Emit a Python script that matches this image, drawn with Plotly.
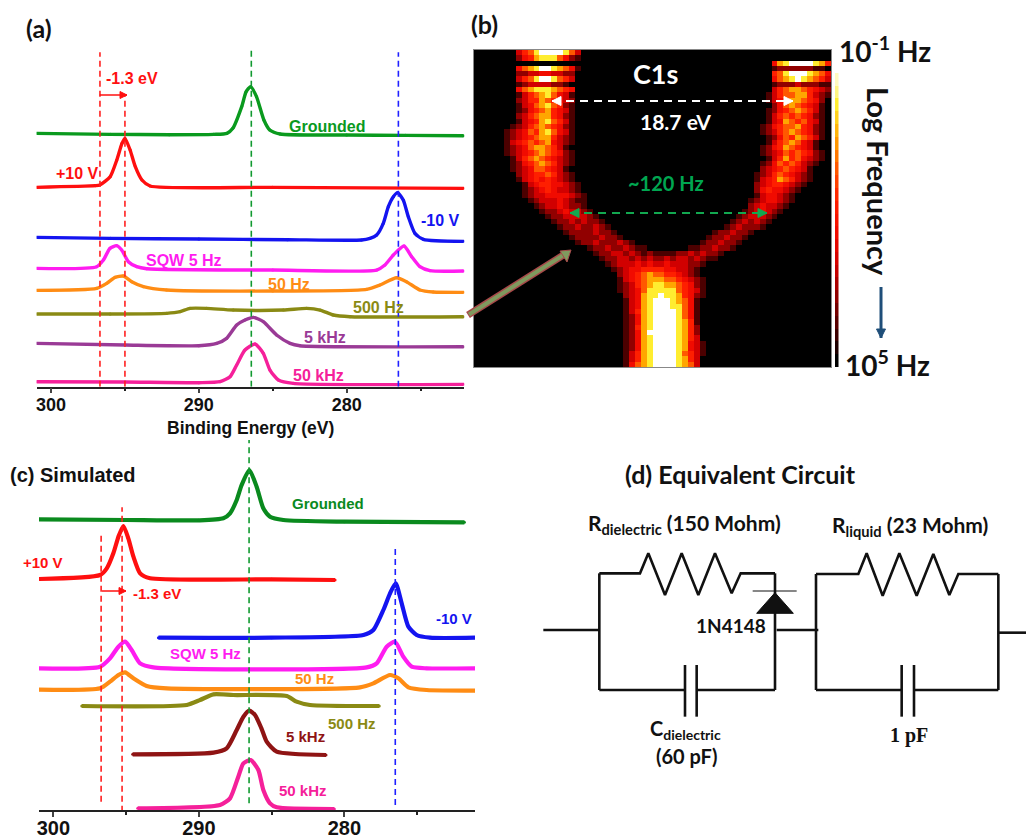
import math
import plotly.graph_objects as go

W, H = 1026, 838
SANS = "Liberation Sans"
CAL = "Lato"

# ---------- panel (a): binding energy (eV) and stacked intensity (a.u.)
a_series = {
    "Grounded": ([301,296,292,289,288.1,287.7,287.1,286.8,286.5,286.1,285.6,285.2,284.5,280,276,272.1],
                 [760,757,756,757,760,775,840,885,900,870,800,770,758,755,754,753], "#0a9a1e"),
    "+10 V": ([301,297,296.7,296,295.55,295.2,295,294.65,294.3,293.85,293.3,285,272.1],
              [598,603,605,630,680,730,745,710,660,620,602,598,595], "#ff0f0f"),
    "-10 V": ([301,296,290,284,279,278.42,277.97,277.52,277.18,276.84,276.55,276.17,275.83,275.38,274.81,272.1],
              [448,445,443,441,440,445,455,490,540,570,582,560,510,460,442,436], "#1414f0"),
    "SQW 5 Hz": ([301,296.91,296.46,296.01,295.56,295.22,294.77,294.2,293.53,285,277.97,277.41,276.84,276.12,275.6,275.04,274.36,272.1],
                 [355,360,380,415,423,410,375,360,354,350,350,365,395,422,390,360,348,347], "#ff1cf0"),
    "50 Hz": ([301,296.91,296.23,295.67,295.11,294.54,293.75,292.18,285,278.65,277.75,276.62,275.95,275.04,274.14,272.1],
              [289,295,310,328,332,315,300,290,287,292,305,327,315,290,284,283], "#ff8c14"),
    "500 Hz": ([301,296,292.18,291.27,290.6,289.47,287.67,284.28,282.7,281.8,280.9,279.77,272.1],
               [218,218,220,225,235,235,230,230,235,230,215,210,210], "#8a8a14"),
    "5 kHz": ([301,295,290,288.79,288.12,287.44,286.88,286.31,285.64,284.74,283.83,283.16,272.1],
              [130,125,123,130,145,185,200,208,195,155,130,123,120], "#9a3a96"),
    "50 kHz": ([301,295,290,288.57,287.89,287.44,286.88,286.2,285.64,285.19,284.62,283.61,272.1],
               [15,14,12,15,30,65,110,128,100,50,20,10,7], "#f5209a"),
}

# ---------- panel (c): simulated spectra
c_series = {
    "Grounded": ([300.99,295,290,288.32,287.86,287.4,287.06,286.53,286.03,285.57,285.11,284.19,280,271.75],
                 [872,870,869,875,890,930,975,1020,970,905,880,870,865,863], "#0a8a1e"),
    "+10 V": ([300.99,296.79,296.33,295.88,295.53,295.19,294.85,294.5,294.04,293.36,285,280.64],
              [693,705,725,770,820,852,815,760,710,695,692,690], "#ff0f0f"),
    "-10 V": ([292.78,285,278.69,278.01,277.32,276.86,276.47,276.06,275.6,275.03,274.11,271.02],
              [517,517,525,540,600,650,680,620,550,525,517,517], "#1414f0"),
    "SQW 5 Hz": ([300.99,296.79,296.11,295.53,295.07,294.62,294.04,293.13,278.46,277.78,277.09,276.52,275.95,275.37,274.34,271.02],
                 [425,430,455,490,505,480,440,428,428,440,490,505,460,430,425,425], "#ff1cf0"),
    "50 Hz": ([300.99,296.79,296.11,295.53,295.07,294.5,293.59,292.21,278.92,278.01,276.86,276.29,275.6,274.34,271.02],
              [361,365,385,405,413,395,372,365,368,380,405,395,368,360,358], "#ff8c14"),
    "500 Hz": ([298.05,290.84,289.92,289.0,287.63,283.96,283.28,282.36,277.6],
               [312,315,330,347,345,342,325,315,312], "#8a8a14"),
    "5 kHz": ([294.55,289.0,288.09,287.4,286.94,286.53,286.14,285.7,285.34,284.65,281.26],
              [167,172,185,240,280,298,285,245,205,175,165], "#8f1414"),
    "50 kHz": ([294.2,288.55,287.86,287.29,286.94,286.44,285.91,285.57,285.11,284.65,280.69],
               [5,15,35,100,140,150,120,60,20,8,3], "#f5209a"),
}

# ---------- panel (b): intensity map, 60 x 60, read by eye (0 = black ... 9 = white)
b_rows = """
0000000356 8999986300 0000000000 0000000000 0000000000 0000000000
0000000245 7888642100 0000000000 0000000000 0000000000 0000000000
0000000000 0000000000 0000000000 0000000000 0000000000 4789999875
0000000467 8998764100 0000000000 0000000000 0000000000 1222222110
0000000223 3443322000 0000000000 0000000000 0000000000 5689998764
0000000356 8998653000 0000000000 0000000000 0000000000 4678987653
0000000123 3332210000 0000000000 0000000000 0000000000 1222322211
0000000467 8887654000 0000000000 0000000000 0000000000 3567765432
0000000135 6786431000 0000000000 0000000000 0000000001 3566775321
0000000235 5765432000 0000000000 0000000000 0000000001 3457765420
0000000134 6786521000 0000000000 0000000000 0000000000 2467654310
0000000124 5675431000 0000000000 0000000000 0000000001 2456765310
0000000235 6775421000 0000000000 0000000000 0000000001 3565654210
0000000134 5786531000 0000000000 0000000000 0000000001 3476564310
0000001235 6765421000 0000000000 0000000000 0000000012 4566754210
0000012346 5786431000 0000000000 0000000000 0000000012 3567654210
0000012345 6775321000 0000000000 0000000000 0000000001 2465765310
0000013456 5674321000 0000000000 0000000000 0000000001 3567643100
0000012346 7765310000 0000000000 0000000000 0000000012 4576543100
0000012345 6765421000 0000000000 0000000000 0000000012 3465654210
0000001356 7654321000 0000000000 0000000000 0000000001 3575643210
0000001245 6765321000 0000000000 0000000000 0000000012 4656532100
0000001234 6654310000 0000000000 0000000000 0000000023 4565431000
0000000234 5565321000 0000000000 0000000000 0000000123 5654321000
0000000134 5454321000 0000000000 0000000000 0000000134 5765321000
0000000013 4554432100 0000000000 0000000000 0000000234 5543210000
0000000012 3454332100 0000000000 0000000000 0000000245 4432100000
0000000012 3344443210 0000000000 0000000000 0000000134 4321000000
0000000001 2333432110 0000000000 0000000000 0000001234 4321000000
0000000000 1233432210 0000000000 0000000000 0000002343 3210000000
0000000000 0122343321 0000000000 0000000000 0000012343 2100000000
0000000000 0012233332 1000000000 0000000000 0000123332 1000000000
0000000000 0001223232 2100000000 0000000000 0001232321 0000000000
0000000000 0000122322 3210000000 0000000000 0012322210 0000000000
0000000000 0000012222 3221000000 0000000000 1223221000 0000000000
0000000000 0000001222 2322100000 0000000001 2232210000 0000000000
0000000000 0000000122 3222321000 0000000012 2322100000 0000000000
0000000000 0000000001 2232232110 0000001122 3221000000 0000000000
0000000000 0000000000 1223323212 1111223232 2100000000 0000000000
0000000000 0000000000 0122332323 2232332321 1000000000 0000000000
0000000000 0000000000 0012333434 3343332210 0000000000 0000000000
0000000000 0000000000 0001234455 5544332100 0000000000 0000000000
0000000000 0000000000 0000234567 6655432100 0000000000 0000000000
0000000000 0000000000 0000134567 7766543210 0000000000 0000000000
0000000000 0000000000 0000123567 8877654210 0000000000 0000000000
0000000000 0000000000 0000123468 8888654310 0000000000 0000000000
0000000000 0000000000 0000023478 8988754210 0000000000 0000000000
0000000000 0000000000 0000013478 9998764100 0000000000 0000000000
0000000000 0000000000 0000013478 9998864100 0000000000 0000000000
0000000000 0000000000 0000013578 9999864100 0000000000 0000000000
0000000000 0000000000 0000012478 9999864100 0000000000 0000000000
0000000000 0000000000 0000012478 9999875100 0000000000 0000000000
0000000000 0000000000 0000012578 9999875200 0000000000 0000000000
0000000000 0000000000 0000012479 9999875200 0000000000 0000000000
0000000000 0000000000 0000012478 9999875300 0000000000 0000000000
0000000000 0000000000 0000012478 9999874310 0000000000 0000000000
0000000000 0000000000 0000012478 9999874310 0000000000 0000000000
0000000000 0000000000 0000013578 9999865310 0000000000 0000000000
0000000000 0000000000 0000013578 9999875300 0000000000 0000000000
0000000000 0000000000 0000014678 9999876300 0000000000 0000000000
""".strip().splitlines()
b_z = [[int(ch) for ch in row.replace(" ", "").ljust(60, "0")[:60]] for row in b_rows]
b_scale = [[0, "#000000"], [0.11, "#4a0000"], [0.22, "#900000"], [0.33, "#d00000"], [0.44, "#f00a00"],
           [0.56, "#ff2000"], [0.67, "#ff5a00"], [0.78, "#ffa800"], [0.89, "#ffee30"], [1, "#ffffff"]]
strip_levels = [[9], [8.7], [8.4], [8], [7.6], [7.2], [6.8], [6.4], [6], [5.6], [5.2], [4.8], [4.4], [4], [3.6], [3.2], [2.8], [2.4], [2], [1.6], [1.2], [0.8], [0.4], [0]]

# ---------- panel (d): circuit schematic, in schematic units
res1_x = [208,325,330,355,405,455,505,555,605,632,735]
res1_y = [370,370,370,310,435,310,435,310,430,370,370]
res2_x = [858,978,985,1010,1058,1108,1160,1210,1258,1285,1405]
res2_y = [372,372,372,310,437,310,437,312,435,372,372]
wires = [
    ([40,208],[540,540]), ([208,208],[370,720]), ([208,465],[720,720]), ([500,735],[720,720]),
    ([735,735],[370,720]), ([740,865],[540,540]), ([858,858],[372,720]), ([858,1115],[720,720]),
    ([1152,1405],[720,720]), ([1405,1405],[372,720]), ([1405,1488],[548,548]),
    ([465,465],[645,800]), ([500,500],[645,800]), ([1115,1115],[645,800]), ([1152,1152],[645,800]),
]
diode_x = [735,680,790,735]
diode_y = [428,490,490,428]
diode_bar_x = [668,800]
diode_bar_y = [423,423]

fig = go.Figure()

def dom_x(a, b): return [a / W, b / W]
def dom_y(top, bot): return [1 - bot / H, 1 - top / H]

hidden = dict(visible=False, showgrid=False, zeroline=False, automargin=False)
fig.update_layout(
    width=W, height=H, autosize=False, margin=dict(l=0, r=0, t=0, b=0),
    paper_bgcolor="white", plot_bgcolor="rgba(0,0,0,0)", showlegend=False,
    xaxis=dict(domain=dom_x(36.7, 464.3), range=[300.97, 272.04], tickvals=[300, 290, 280], automargin=False,
               ticks="outside", ticklen=5, tickwidth=1.5, linecolor="#222", linewidth=1.5, showline=True, ticklabelstandoff=-4,
               showgrid=False, zeroline=False, tickfont=dict(family=SANS, size=18, color="#111", weight="bold"),
               minor=dict(tickvals=[295, 285, 275], ticks="outside", ticklen=3, tickcolor="#222"),
               anchor="y"),
    yaxis=dict(domain=dom_y(50, 386.7), range=[0, 1010], **hidden, anchor="x"),
    xaxis2=dict(domain=dom_x(39, 475), range=[300.99, 271.02], tickvals=[300, 290, 280], automargin=False,
                ticks="outside", ticklen=5, tickwidth=1.5, linecolor="#222", linewidth=1.5, showline=True, ticklabelstandoff=-6,
                showgrid=False, zeroline=False, tickfont=dict(family=SANS, size=20, color="#111", weight="bold"),
                minor=dict(tickvals=[295, 285, 275], ticks="outside", ticklen=3, tickcolor="#222"),
                anchor="y2"),
    yaxis2=dict(domain=dom_y(440, 810), range=[0, 1110], **hidden, anchor="x2"),
    xaxis3=dict(domain=dom_x(474, 831), range=[-0.5, 59.5], showticklabels=False, ticks="", showgrid=False, automargin=False,
                zeroline=False, showline=True, linecolor="#888", mirror=True, anchor="y3"),
    yaxis3=dict(domain=dom_y(50, 367), range=[59.5, -0.5], showticklabels=False, ticks="", showgrid=False, automargin=False,
                zeroline=False, showline=True, linecolor="#888", mirror=True, anchor="x3"),
    xaxis4=dict(domain=[0, 1], range=[0, W], **hidden, anchor="y4"),
    yaxis4=dict(domain=[0, 1], range=[H, 0], **hidden, anchor="x4"),
    xaxis5=dict(domain=dom_x(530, 1026), range=[0, 1488], **hidden, anchor="y5"),
    yaxis5=dict(domain=dom_y(450, 780), range=[990, 0], **hidden, anchor="x5"),
    xaxis6=dict(domain=dom_x(835, 838.5), range=[-0.5, 0.5], **hidden, anchor="y6"),
    yaxis6=dict(domain=dom_y(60, 367), range=[23.5, -0.5], **hidden, anchor="x6"),
)

# spectra
for name, (xs, ys, col) in a_series.items():
    fig.add_trace(go.Scatter(x=xs, y=ys, mode="lines+markers", line=dict(color=col, width=3.4, shape="spline", smoothing=0.6),
                             marker=dict(color=col, size=3), name=name, xaxis="x", yaxis="y"))
for name, (xs, ys, col) in c_series.items():
    fig.add_trace(go.Scatter(x=xs, y=ys, mode="lines+markers", line=dict(color=col, width=4.2, shape="spline", smoothing=0.6),
                             marker=dict(color=col, size=3), name=name, xaxis="x2", yaxis="y2"))

# dashed guides, in each panel's data coordinates
a_guides = [(296.69, 0, 1003, "#ff2020"), (295.0, 0, 875, "#ff2020"), (286.45, 0, 1010, "#119a30"), (276.5, 0, 1003, "#2020ff")]
c_guides = [(296.72, 25, 835, "#ff2020"), (295.28, -5, 908, "#ff2020"), (286.55, 20, 1110, "#119a30"), (276.5, 15, 790, "#2020ff")]
for axis_x, axis_y, guides in (("x", "y", a_guides), ("x2", "y2", c_guides)):
    for e, lo, hi, col in guides:
        fig.add_trace(go.Scatter(x=[e, e], y=[lo, hi], mode="lines", line=dict(color=col, width=1.6, dash="6px,4px"),
                                 xaxis=axis_x, yaxis=axis_y, hoverinfo="skip"))

# heat map and its colour strip
fig.add_trace(go.Heatmap(z=b_z, xaxis="x3", yaxis="y3", colorscale=b_scale, zmin=0, zmax=9, zsmooth=False, showscale=False))
fig.add_trace(go.Heatmap(z=strip_levels, xaxis="x6", yaxis="y6", colorscale=b_scale, zmin=0, zmax=9, zsmooth=False, showscale=False, hoverinfo="skip"))

# circuit
sc = dict(mode="lines", line=dict(color="#111", width=2.6), xaxis="x5", yaxis="y5", hoverinfo="skip")
fig.add_trace(go.Scatter(x=res1_x, y=res1_y, **sc))
fig.add_trace(go.Scatter(x=res2_x, y=res2_y, **sc))
for wx, wy in wires:
    fig.add_trace(go.Scatter(x=wx, y=wy, **sc))
fig.add_trace(go.Scatter(x=diode_x, y=diode_y, mode="lines", fill="toself", fillcolor="#111", line=dict(color="#111", width=1),
                         xaxis="x5", yaxis="y5", hoverinfo="skip"))
fig.add_trace(go.Scatter(x=diode_bar_x, y=diode_bar_y, mode="lines", line=dict(color="#111", width=1.2),
                         xaxis="x5", yaxis="y5", hoverinfo="skip"))
fig.add_trace(go.Scatter(x=[0, W], y=[0, H], mode="markers", marker=dict(opacity=0), xaxis="x4", yaxis="y4", hoverinfo="skip"))

ann = []
shapes = []
def label(x, y, text, size, color="#111", family=SANS, bold=True, ref=("x4", "y4"), angle=0, xanchor="center"):
    t = f"<b>{text}</b>" if bold else text
    ann.append(dict(x=x, y=y, xref=ref[0], yref=ref[1], text=t, showarrow=False, xanchor=xanchor, yanchor="middle",
                    textangle=angle, font=dict(family=family, size=size, color=color)))

def head(x0, y0, x1, y1, color, size=7):
    d = math.hypot(x1 - x0, y1 - y0)
    ux, uy = (x1 - x0) / d, (y1 - y0) / d
    bx, by = x1 - ux * size, y1 - uy * size
    px, py = -uy * size * 0.5, ux * size * 0.5
    shapes.append(dict(type="path", xref="x4", yref="y4",
                       path=f"M {x1} {y1} L {bx + px} {by + py} L {bx - px} {by - py} Z",
                       fillcolor=color, line=dict(color=color, width=1)))

def arrow(x0, y0, x1, y1, color, width=1.5, size=7):
    shapes.append(dict(type="line", xref="x4", yref="y4", x0=x0, x1=x1, y0=y0, y1=y1, line=dict(color=color, width=width)))
    head(x0, y0, x1, y1, color, size)

# panel letters and axis title
label(39, 28, "(a)", 25, family=CAL)
label(484, 24, "(b)", 25, family=CAL)
label(8, 475, "(c) Simulated", 20, xanchor="left")
label(250, 428, "Binding Energy (eV)", 17.5)

# panel (a) labels
for x, y, t, c in [(327, 126, "Grounded", "#0a9a1e"), (77, 173, "+10 V", "#ff1010"), (440, 220, "-10 V", "#1414f0"),
                   (184, 260, "SQW 5 Hz", "#ff1cf0"), (289, 284, "50 Hz", "#ff8c14"), (378, 307, "500 Hz", "#8a8a14"),
                   (325, 337, "5 kHz", "#9a3a96"), (318, 375, "50 kHz", "#f5209a")]:
    label(x, y, t, 16, c)
label(132, 78, "-1.3 eV", 16, "#ff1010")
arrow(99.7, 95, 127, 95, "#ff1010", 1.5, 7)

# panel (c) labels
for x, y, t, c in [(328, 503, "Grounded", "#0a8a1e"), (43, 562, "+10 V", "#ff1010"), (454, 618, "-10 V", "#1414f0"),
                   (205, 653, "SQW 5 Hz", "#ff1cf0"), (314, 678, "50 Hz", "#ff8c14"), (352, 723, "500 Hz", "#8a8a14"),
                   (305, 736, "5 kHz", "#8f1414"), (303, 790, "50 kHz", "#f5209a")]:
    label(x, y, t, 15, c)
label(157, 593, "-1.3 eV", 15, "#ff1010")
arrow(102, 591, 126, 591, "#ff1010", 1.5, 7)

# panel (b) text
label(655, 73, "C1s", 27, "white", CAL, True)
label(675, 121, "18.7 eV", 21, "white", CAL, True)
label(666, 183, "~120 Hz", 20, "#00a651", CAL, True)
label(885, 49, "10<sup>-1</sup> Hz", 28, "#111", CAL)
label(887, 363, "10<sup>5</sup> Hz", 28, "#111", CAL)
label(879, 181, "Log Frequency", 29, "#111", CAL, True, angle=90)

shapes += [
    dict(type="line", xref="x4", yref="y4", x0=552, x1=793, y0=101, y1=101, line=dict(color="white", width=1.8, dash="8px,6px")),
    dict(type="line", xref="x4", yref="y4", x0=570, x1=767, y0=213, y1=213, line=dict(color="#12a850", width=1.8, dash="8px,6px")),
    dict(type="line", xref="x4", yref="y4", x0=468, x1=565, y0=315, y1=254, line=dict(color="#a84a4a", width=7)),
    dict(type="line", xref="x4", yref="y4", x0=469, x1=565, y0=314.5, y1=254, line=dict(color="#7f9a5e", width=4)),
    dict(type="path", xref="x4", yref="y4", path="M 571 250 L 560 251 L 567 262 Z", fillcolor="#7f9a5e", line=dict(color="#a84a4a", width=1)),
]
for x0, x1, y0, col in [(562, 552, 101, "white"), (783, 793, 101, "white"), (580, 570, 213, "#12a850"), (757, 767, 213, "#12a850")]:
    head(x0, y0, x1, y0, col, 9)
arrow(881, 287, 881, 338, "#1f4e79", 3, 9)

# panel (d) text
S = ("x5", "y5")
label(630, 72, "(d) Equivalent Circuit", 25, "#111", CAL, True, S)
label(463, 222, "R<sub>dielectric</sub> (150 Mohm)", 21, "#111", CAL, True, S)
label(1140, 228, "R<sub>liquid</sub> (23 Mohm)", 21, "#111", CAL, True, S)
label(603, 527, "1N4148", 19, "#111", CAL, True, S)
label(465, 838, "C<sub>dielectric</sub>", 20, "#111", CAL, True, S)
label(470, 918, "(60 pF)", 20, "#111", CAL, True, S)
label(1138, 855, "1 pF", 20, "#111", "Liberation Serif", True, S)

fig.update_layout(annotations=ann, shapes=shapes)
fig.write_html("out.html", config=dict(displayModeBar=False),
               post_script="document.body.style.margin='0';")
